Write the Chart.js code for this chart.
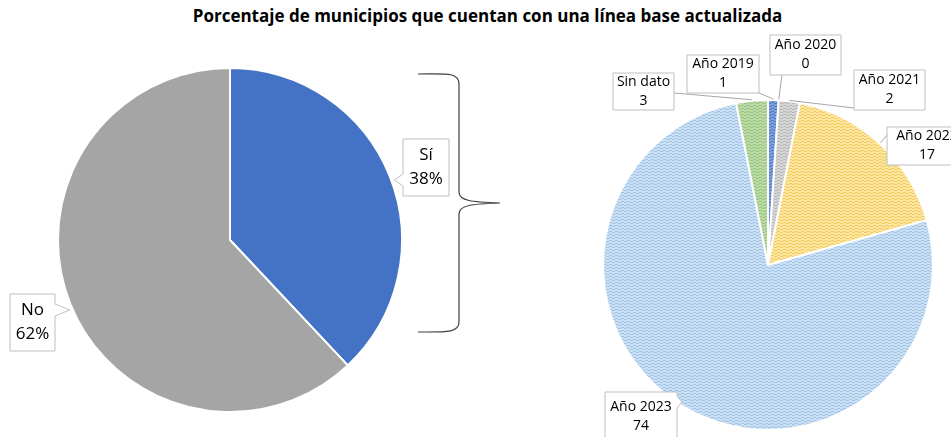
<!DOCTYPE html>
<html>
<head>
<meta charset="utf-8">
<script src="https://cdn.jsdelivr.net/npm/chart.js"></script>
<style>
html, body { margin: 0; padding: 0; background: #fff; }
#wrap { position: relative; width: 951px; height: 437px; overflow: hidden; }
#wrap canvas { position: absolute; left: 0; top: 0; }
#title { position: absolute; left: 12px; top: 4px; width: 951px; text-align: center;
  font: bold 17px "Open Sans", sans-serif; color: #000; }
</style>
</head>
<body>
<div id="wrap">
  <div id="title">Porcentaje de municipios que cuentan con una línea base actualizada</div>
  <canvas id="left" width="951" height="437"></canvas>
  <canvas id="right" width="951" height="437"></canvas>
</div>
<script>
// data
const resumenLabels = ['Sí', 'No'];
const resumenValues = [38, 62];

const anioLabels = ['Año 2019', 'Año 2020', 'Año 2021', 'Año 2022', 'Año 2023', 'Sin dato'];
const anioValues = [1, 0, 2, 17, 74, 3];

// where the label boxes sit (x, y, w, h) - layout only
const leftBoxes = [
  { box: [403, 139, 46, 57], side: 'left', py: 180 },
  { box: [10, 294, 45, 57], side: 'right', py: 310 }
];
const rightBoxes = [
  { box: [687, 55, 72, 38], attach: [759, 93] },
  { box: [770, 35, 71, 40], attach: [782, 75] },
  { box: [854, 70, 71, 40], attach: [854, 108] },
  { box: [887, 127, 80, 38], attach: [887, 135] },
  { box: [605, 392, 72, 50], side: 'right', py: 402 },
  { box: [613, 73, 61, 37], attach: [674, 93] }
];

// excel-like stepped dash fill
function pattern(base, ink) {
  const c = document.createElement('canvas');
  c.width = 6; c.height = 6;
  const g = c.getContext('2d');
  g.fillStyle = base;
  g.fillRect(0, 0, 6, 6);
  g.fillStyle = ink;
  g.fillRect(0, 4, 3, 1);
  g.fillRect(3, 3, 3, 1);
  g.fillRect(0, 1, 3, 1);
  g.fillRect(3, 0, 3, 1);
  return g.createPattern(c, 'repeat');
}

function drawBox(ctx, b, tip) {
  const [x, y, w, h] = b.box;
  ctx.beginPath();
  if (b.side === 'left') {
    ctx.moveTo(x, y); ctx.lineTo(x + w, y); ctx.lineTo(x + w, y + h); ctx.lineTo(x, y + h);
    ctx.lineTo(x, b.py + 6); ctx.lineTo(tip[0], tip[1]); ctx.lineTo(x, b.py - 6);
  } else if (b.side === 'right') {
    ctx.moveTo(x, y); ctx.lineTo(x + w, y); ctx.lineTo(x + w, b.py - 6);
    ctx.lineTo(tip[0], tip[1]); ctx.lineTo(x + w, b.py + 6);
    ctx.lineTo(x + w, y + h); ctx.lineTo(x, y + h);
  } else {
    ctx.rect(x, y, w, h);
  }
  ctx.closePath();
  ctx.fillStyle = '#fff';
  ctx.fill();
  ctx.strokeStyle = '#BFBFBF';
  ctx.lineWidth = 1;
  ctx.stroke();
}

function calloutPlugin(boxes, texts, font, lineH) {
  return {
    id: 'callouts',
    afterDatasetsDraw(chart) {
      const ctx = chart.ctx;
      const arcs = chart.getDatasetMeta(0).data;
      ctx.save();
      boxes.forEach((b, i) => {
        const arc = arcs[i];
        const r = arc.outerRadius;
        const [x, y, w, h] = b.box;
        if (b.side) {
          // pointer goes horizontally toward the pie edge
          const dy = b.py - arc.y;
          const rr = r + 3;
          let dx = Math.sqrt(Math.max(rr * rr - dy * dy, 0));
          let tx;
          if (b.side === 'left') { tx = arc.x + dx; if (tx > x - 5) tx = x - 5; }
          else { tx = arc.x - dx; if (tx < x + w + 5) tx = x + w + 5; }
          drawBox(ctx, b, [tx, b.py]);
        } else {
          const mid = (arc.startAngle + arc.endAngle) / 2;
          const px = arc.x + Math.cos(mid) * (r + 1);
          const py = arc.y + Math.sin(mid) * (r + 1);
          ctx.beginPath();
          ctx.moveTo(b.attach[0], b.attach[1]);
          ctx.lineTo(px, py);
          ctx.strokeStyle = '#A6A6A6';
          ctx.lineWidth = 1;
          ctx.stroke();
          drawBox(ctx, b);
        }
        ctx.fillStyle = '#000';
        ctx.font = font;
        ctx.textAlign = 'center';
        ctx.textBaseline = 'middle';
        const cx = x + w / 2, cy = y + h / 2;
        ctx.fillText(texts[i][0], cx, cy - lineH / 2);
        ctx.fillText(texts[i][1], cx, cy + lineH / 2);
      });
      ctx.restore();
    }
  };
}

const bracePlugin = {
  id: 'brace',
  afterDraw(chart) {
    const ctx = chart.ctx;
    ctx.save();
    ctx.strokeStyle = '#404040';
    ctx.lineWidth = 1.2;
    ctx.beginPath();
    ctx.moveTo(418, 74);
    ctx.bezierCurveTo(446, 74, 459, 72, 459, 84);
    ctx.lineTo(459, 192);
    ctx.bezierCurveTo(459, 201, 472, 202, 500, 203);
    ctx.bezierCurveTo(472, 204, 459, 205, 459, 214);
    ctx.lineTo(459, 322);
    ctx.bezierCurveTo(459, 333, 446, 332, 418, 332);
    ctx.stroke();
    ctx.restore();
  }
};

new Chart(document.getElementById('left'), {
  type: 'pie',
  data: {
    labels: resumenLabels,
    datasets: [{
      data: resumenValues,
      backgroundColor: ['#4472C4', '#A5A5A5'],
      borderColor: '#fff',
      borderWidth: 2,
      radius: 172,
      hoverOffset: 0
    }]
  },
  options: {
    responsive: false,
    animation: false,
    events: [],
    layout: { padding: { left: 0, right: 491, top: 43, bottom: 0 } },
    plugins: { legend: { display: false }, tooltip: { enabled: false } }
  },
  plugins: [
    calloutPlugin(leftBoxes, resumenLabels.map((l, i) => [l, resumenValues[i] + '%']), '17px "Open Sans"', 24),
    bracePlugin
  ]
});

new Chart(document.getElementById('right'), {
  type: 'pie',
  data: {
    labels: anioLabels,
    datasets: [{
      data: anioValues,
      backgroundColor: [
        pattern('#7EA0DB', '#4F7BC9'),
        pattern('#F4B183', '#ED7D31'),
        pattern('#D6D6D6', '#B8B8B8'),
        pattern('#FCE6A0', '#F2CC60'),
        pattern('#CCE0F4', '#A0C4E8'),
        pattern('#BCDAA8', '#98C67C')
      ],
      borderColor: '#fff',
      borderWidth: 2,
      radius: 165,
      hoverOffset: 0
    }]
  },
  options: {
    responsive: false,
    animation: false,
    events: [],
    layout: { padding: { left: 585, right: 0, top: 93, bottom: 0 } },
    plugins: { legend: { display: false }, tooltip: { enabled: false } }
  },
  plugins: [
    calloutPlugin(rightBoxes, anioLabels.map((l, i) => [l, String(anioValues[i])]), '14px "Open Sans"', 19)
  ]
});
</script>
</body>
</html>
